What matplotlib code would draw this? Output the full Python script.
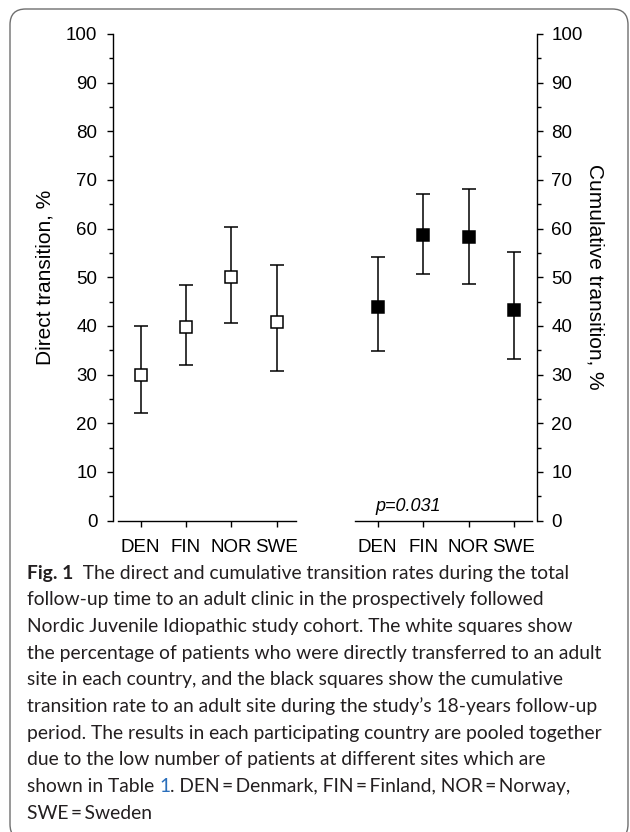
import numpy as np
import matplotlib
matplotlib.use('Agg')
import matplotlib.pyplot as plt
from matplotlib.patches import FancyBboxPatch
from matplotlib.ticker import MultipleLocator

# ---- data ----
countries = ['DEN', 'FIN', 'NOR', 'SWE']
direct = [30.0, 39.7, 50.0, 40.8]
direct_lo = [22.0, 32.0, 40.5, 30.7]
direct_hi = [40.0, 48.4, 60.3, 52.6]
cumulative = [43.9, 58.7, 58.3, 43.3]
cumulative_lo = [34.9, 50.6, 48.7, 33.1]
cumulative_hi = [54.1, 67.1, 68.2, 55.2]
p_label = 'p=0.031'
left_ylabel = 'Direct transition, %'
right_ylabel = 'Cumulative transition, %'

caption_bold = 'Fig. 1'
caption_lines = [
    '  The direct and cumulative transition rates during the total',
    'follow-up time to an adult clinic in the prospectively followed',
    'Nordic Juvenile Idiopathic study cohort. The white squares show',
    'the percentage of patients who were directly transferred to an adult',
    'site in each country, and the black squares show the cumulative',
    'transition rate to an adult site during the study\u2019s 18-years follow-up',
    'period. The results in each participating country are pooled together',
    'due to the low number of patients at different sites which are',
    'shown in Table ',
    'SWE\u2009=\u2009Sweden',
]
table_ref = '1'
line9_rest = '. DEN\u2009=\u2009Denmark, FIN\u2009=\u2009Finland, NOR\u2009=\u2009Norway,'

# ---- figure ----
W, H = 630, 832
plt.rcParams['font.family'] = ['Liberation Sans', 'DejaVu Sans']
fig = plt.figure(figsize=(W / 100, H / 100), dpi=100)

# rounded frame
frame = FancyBboxPatch((10 / W, -8 / H), (618 / W), (831 / H),
                       boxstyle='round,pad=0,rounding_size=0.025',
                       transform=fig.transFigure, fill=False,
                       edgecolor='#6f6f6f', linewidth=1.0,
                       mutation_aspect=W / H)
fig.patches.append(frame)

ax_l, ax_r, y0, y100 = 113, 537, 520.5, 34
ax = fig.add_axes([ax_l / W, 1 - y0 / H, (ax_r - ax_l) / W, (y0 - y100) / H])
ax2 = ax.twinx()

gap = 5.22
x_left = np.arange(len(countries), dtype=float)
x_right = x_left + gap
xmin, xmax = -0.606, 8.727
for a in (ax, ax2):
    a.set_xlim(xmin, xmax)
    a.set_ylim(0, 100)
    a.patch.set_visible(False)

d = np.array(direct); c = np.array(cumulative)
ax.errorbar(x_left, d, yerr=[d - np.array(direct_lo), np.array(direct_hi) - d],
            fmt='s', ms=8.7, mfc='white', mec='black', mew=1.1,
            ecolor='black', elinewidth=1.1, capsize=4.7, capthick=1.1,
            clip_on=False, zorder=3)
ax2.errorbar(x_right, c, yerr=[c - np.array(cumulative_lo), np.array(cumulative_hi) - c],
             fmt='s', ms=8.7, mfc='black', mec='black', mew=1.1,
             ecolor='black', elinewidth=1.1, capsize=4.7, capthick=1.1,
             clip_on=False, zorder=3)

# spines
for s in ('top', 'bottom', 'right'):
    ax.spines[s].set_visible(False)
for s in ('top', 'bottom', 'left'):
    ax2.spines[s].set_visible(False)
ax.spines['left'].set_linewidth(1.0)
ax2.spines['right'].set_linewidth(1.0)

# broken x baseline
ax.plot([-0.496, 3.425], [0, 0], color='black', lw=1.0, clip_on=False)
ax.plot([4.725, 8.623], [0, 0], color='black', lw=1.0, clip_on=False)

ax.set_xticks(np.concatenate([x_left, x_right]))
ax.set_xticklabels(countries + countries)
ax.tick_params(axis='x', direction='out', length=4.5, width=1.0, pad=8.5, labelsize=13.5)
ax2.tick_params(axis='x', bottom=False, labelbottom=False)

for a, side, pad in ((ax, 'left', 7.0), (ax2, 'right', 6.0)):
    a.yaxis.set_major_locator(MultipleLocator(10))
    a.yaxis.set_minor_locator(MultipleLocator(5))
    a.tick_params(axis='y', which='major', direction='out', length=4.3, width=1.0,
                  pad=pad, labelsize=13.5)
    a.tick_params(axis='y', which='minor', direction='out', length=2.8, width=1.0)

ax.set_ylabel(left_ylabel, fontsize=15, ha='center', va='center')
ax.yaxis.set_label_coords((45 - ax_l) / (ax_r - ax_l), 0.5)
ax2.set_ylabel(right_ylabel, fontsize=15, rotation=-90, ha='center', va='center')
ax2.yaxis.set_label_coords((595 - ax_l) / (ax_r - ax_l), 0.5)

ax2.text(x_right[0] + 0.67, 2.0, p_label, style='italic',
         fontsize=13, ha='center', va='baseline')

# ---- caption ----
cap_font = ['Lato', 'DejaVu Sans']
renderer = fig.canvas.get_renderer()
probe = fig.text(0, 0, caption_lines[3], fontsize=10, family=cap_font)
wpx = probe.get_window_extent(renderer).width
probe.remove()
cap_size = 10 * (602 - 27) / wpx
tcol = '#231f20'
x0 = 27 / W
base0 = 578.5
step = 26.67
for i, line in enumerate(caption_lines):
    yb = 1 - (base0 + i * step) / H
    if i == 0:
        t = fig.text(x0, yb, caption_bold, fontsize=cap_size, family=cap_font,
                     weight='bold', va='baseline', color=tcol)
        e = t.get_window_extent(renderer)
        fig.text(e.x1 / W, yb, line, fontsize=cap_size, family=cap_font,
                 va='baseline', color=tcol)
    elif i == 8:
        t = fig.text(x0, yb, line, fontsize=cap_size, family=cap_font,
                     va='baseline', color=tcol)
        e = t.get_window_extent(renderer)
        t2 = fig.text(e.x1 / W, yb, table_ref, fontsize=cap_size, family=cap_font,
                      va='baseline', color='#2a6ebb')
        e2 = t2.get_window_extent(renderer)
        fig.text(e2.x1 / W, yb, line9_rest, fontsize=cap_size, family=cap_font,
                 va='baseline', color=tcol)
    else:
        fig.text(x0, yb, line, fontsize=cap_size, family=cap_font,
                 va='baseline', color=tcol)

fig.savefig('out.png', dpi=100)
